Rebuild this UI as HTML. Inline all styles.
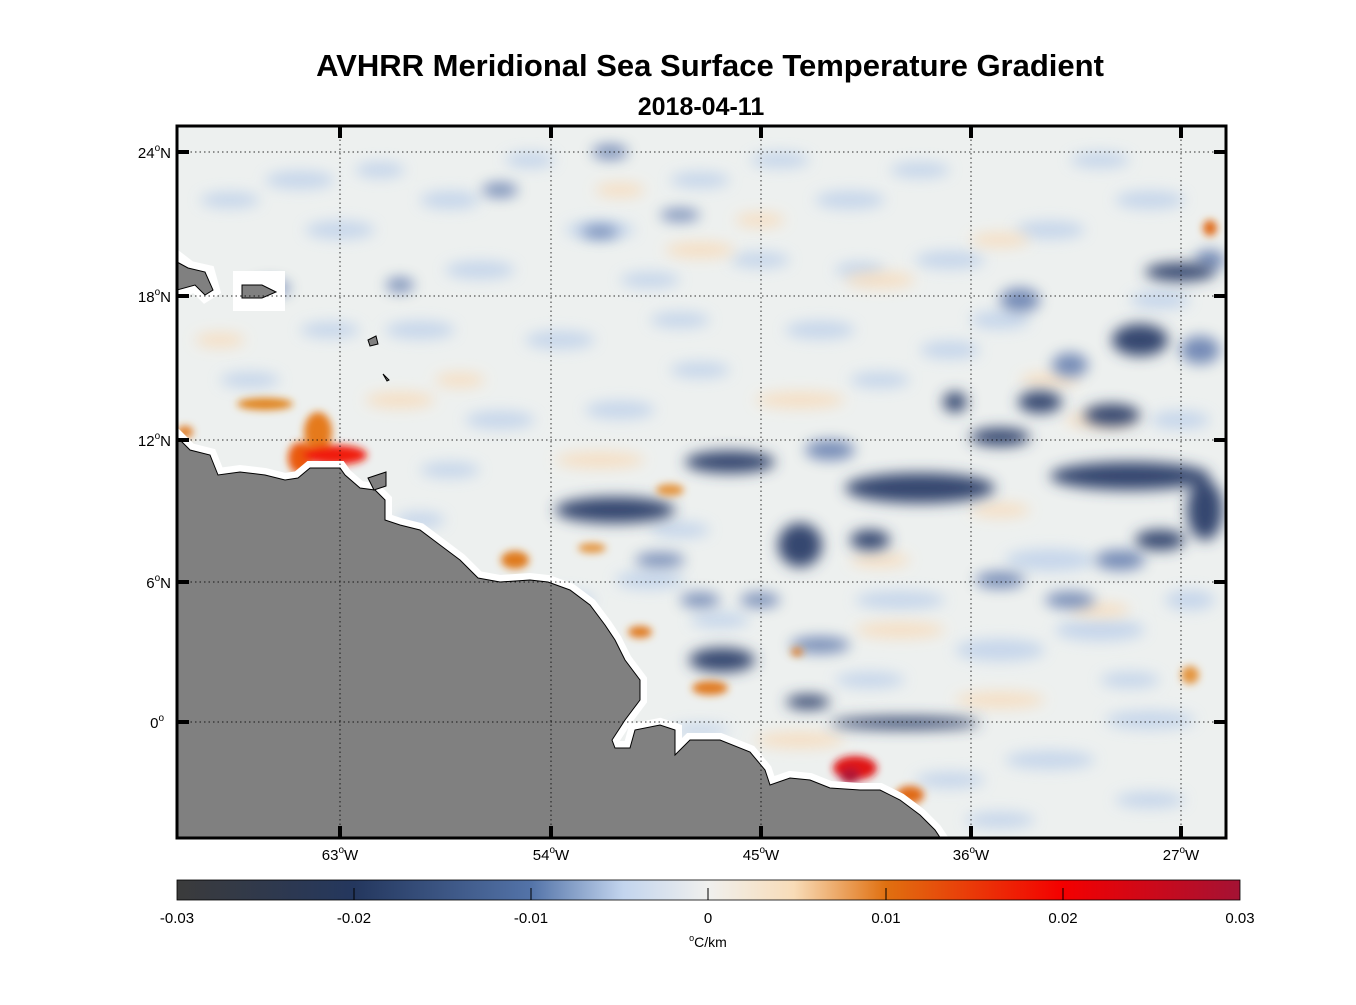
<!DOCTYPE html>
<html><head><style>
body{margin:0;background:#fff;}
svg text{font-family:"Liberation Sans",Arial,sans-serif;}
</style></head><body>
<svg width="1356" height="1000" viewBox="0 0 1356 1000" xmlns="http://www.w3.org/2000/svg">
<defs>
<filter id="b" x="-50%" y="-50%" width="200%" height="200%"><feGaussianBlur stdDeviation="7"/></filter>
<filter id="b2" x="-50%" y="-50%" width="200%" height="200%"><feGaussianBlur stdDeviation="4"/></filter>
<clipPath id="ax"><rect x="177" y="126" width="1049" height="712"/></clipPath>
<linearGradient id="cb" x1="0" x2="1">
<stop offset="0" stop-color="#3b3b3b"/>
<stop offset="0.167" stop-color="#24375e"/>
<stop offset="0.333" stop-color="#5373a8"/>
<stop offset="0.42" stop-color="#c3d5ee"/>
<stop offset="0.5" stop-color="#f0f0ee"/>
<stop offset="0.58" stop-color="#f8dcb8"/>
<stop offset="0.667" stop-color="#e07010"/>
<stop offset="0.833" stop-color="#f40000"/>
<stop offset="1" stop-color="#a41234"/>
</linearGradient>
</defs>
<text x="710" y="76" font-size="31" font-weight="bold" text-anchor="middle">AVHRR Meridional Sea Surface Temperature Gradient</text>
<text x="701" y="115" font-size="25" font-weight="bold" text-anchor="middle">2018-04-11</text>
<g clip-path="url(#ax)">
<rect x="177" y="126" width="1049" height="712" fill="#edf0ef"/>
<g filter="url(#b)" fill="#bfd1ea" opacity="0.85">
<ellipse cx="300" cy="180" rx="35" ry="9"/><ellipse cx="450" cy="200" rx="30" ry="9"/><ellipse cx="600" cy="230" rx="35" ry="9"/>
<ellipse cx="700" cy="180" rx="30" ry="8"/><ellipse cx="850" cy="200" rx="35" ry="9"/><ellipse cx="950" cy="260" rx="35" ry="9"/>
<ellipse cx="420" cy="330" rx="35" ry="9"/><ellipse cx="560" cy="340" rx="35" ry="9"/><ellipse cx="680" cy="320" rx="30" ry="8"/>
<ellipse cx="820" cy="330" rx="35" ry="9"/><ellipse cx="950" cy="350" rx="30" ry="9"/><ellipse cx="250" cy="380" rx="30" ry="8"/>
<ellipse cx="500" cy="420" rx="35" ry="9"/><ellipse cx="620" cy="410" rx="35" ry="9"/><ellipse cx="1050" cy="560" rx="45" ry="11"/>
<ellipse cx="1100" cy="630" rx="45" ry="11"/><ellipse cx="1000" cy="650" rx="45" ry="11"/><ellipse cx="650" cy="580" rx="35" ry="9"/>
<ellipse cx="560" cy="600" rx="35" ry="9"/><ellipse cx="900" cy="600" rx="45" ry="9"/><ellipse cx="1050" cy="760" rx="45" ry="9"/>
<ellipse cx="1150" cy="720" rx="45" ry="9"/><ellipse cx="1050" cy="230" rx="35" ry="9"/><ellipse cx="1150" cy="200" rx="35" ry="9"/>
<ellipse cx="480" cy="270" rx="35" ry="9"/><ellipse cx="340" cy="230" rx="35" ry="9"/>
<ellipse cx="230" cy="200" rx="30" ry="8"/><ellipse cx="380" cy="170" rx="25" ry="8"/><ellipse cx="530" cy="160" rx="25" ry="8"/>
<ellipse cx="780" cy="160" rx="30" ry="8"/><ellipse cx="920" cy="170" rx="30" ry="8"/><ellipse cx="1100" cy="160" rx="30" ry="8"/>
<ellipse cx="760" cy="260" rx="30" ry="8"/><ellipse cx="860" cy="270" rx="25" ry="8"/><ellipse cx="650" cy="280" rx="30" ry="8"/>
<ellipse cx="330" cy="330" rx="30" ry="8"/><ellipse cx="700" cy="370" rx="30" ry="8"/><ellipse cx="880" cy="380" rx="30" ry="8"/>
<ellipse cx="1000" cy="320" rx="30" ry="9"/><ellipse cx="1160" cy="300" rx="30" ry="9"/><ellipse cx="1180" cy="420" rx="30" ry="9"/>
<ellipse cx="450" cy="470" rx="30" ry="8"/><ellipse cx="420" cy="520" rx="25" ry="8"/><ellipse cx="680" cy="530" rx="30" ry="8"/>
<ellipse cx="720" cy="620" rx="30" ry="8"/><ellipse cx="870" cy="680" rx="35" ry="8"/><ellipse cx="950" cy="780" rx="35" ry="8"/>
<ellipse cx="1150" cy="800" rx="35" ry="8"/><ellipse cx="1000" cy="820" rx="35" ry="8"/><ellipse cx="1130" cy="680" rx="30" ry="8"/>
<ellipse cx="700" cy="730" rx="30" ry="6"/><ellipse cx="1190" cy="600" rx="25" ry="10"/>
</g>
<g filter="url(#b)" fill="#f7dcbc" opacity="0.85">
<ellipse cx="400" cy="400" rx="35" ry="8"/><ellipse cx="600" cy="460" rx="45" ry="8"/><ellipse cx="800" cy="400" rx="45" ry="8"/>
<ellipse cx="900" cy="630" rx="45" ry="8"/><ellipse cx="1000" cy="700" rx="45" ry="8"/><ellipse cx="700" cy="250" rx="35" ry="8"/>
<ellipse cx="880" cy="280" rx="35" ry="8"/><ellipse cx="1100" cy="420" rx="35" ry="8"/><ellipse cx="800" cy="740" rx="45" ry="8"/>
<ellipse cx="620" cy="190" rx="25" ry="7"/><ellipse cx="760" cy="220" rx="25" ry="7"/><ellipse cx="1000" cy="240" rx="30" ry="7"/>
<ellipse cx="1050" cy="380" rx="30" ry="7"/><ellipse cx="1000" cy="510" rx="30" ry="7"/><ellipse cx="1100" cy="610" rx="30" ry="7"/>
<ellipse cx="880" cy="560" rx="30" ry="7"/><ellipse cx="220" cy="340" rx="25" ry="7"/><ellipse cx="460" cy="380" rx="25" ry="7"/>
</g>
<g filter="url(#b)" fill="#6780b0" opacity="0.9">
<ellipse cx="610" cy="152" rx="18" ry="7"/><ellipse cx="500" cy="190" rx="18" ry="7"/><ellipse cx="680" cy="215" rx="20" ry="6"/>
<ellipse cx="600" cy="232" rx="18" ry="6"/><ellipse cx="270" cy="288" rx="20" ry="8"/><ellipse cx="400" cy="285" rx="14" ry="7"/>
<ellipse cx="1020" cy="300" rx="20" ry="12"/><ellipse cx="1200" cy="350" rx="20" ry="14"/><ellipse cx="1070" cy="365" rx="18" ry="12"/>
<ellipse cx="820" cy="645" rx="30" ry="8"/><ellipse cx="1000" cy="580" rx="25" ry="8"/><ellipse cx="1120" cy="560" rx="25" ry="10"/>
<ellipse cx="1070" cy="600" rx="25" ry="8"/><ellipse cx="830" cy="450" rx="25" ry="10"/><ellipse cx="1210" cy="260" rx="15" ry="10"/>
<ellipse cx="660" cy="560" rx="25" ry="7"/><ellipse cx="700" cy="600" rx="20" ry="7"/><ellipse cx="760" cy="600" rx="20" ry="7"/>
</g>
<g filter="url(#b)" fill="#35476f">
<ellipse cx="730" cy="462" rx="45" ry="11"/><ellipse cx="920" cy="488" rx="75" ry="15"/><ellipse cx="1130" cy="476" rx="80" ry="14"/>
<ellipse cx="615" cy="510" rx="60" ry="13"/><ellipse cx="1000" cy="437" rx="30" ry="9"/><ellipse cx="1040" cy="402" rx="22" ry="11"/>
<ellipse cx="1140" cy="340" rx="28" ry="16"/><ellipse cx="1112" cy="415" rx="28" ry="11"/><ellipse cx="1205" cy="510" rx="18" ry="30"/>
<ellipse cx="800" cy="545" rx="22" ry="22"/><ellipse cx="722" cy="660" rx="33" ry="12"/><ellipse cx="808" cy="702" rx="22" ry="7"/>
<ellipse cx="905" cy="723" rx="75" ry="6"/><ellipse cx="1180" cy="272" rx="35" ry="9"/><ellipse cx="955" cy="402" rx="12" ry="10"/>
<ellipse cx="870" cy="540" rx="20" ry="10"/><ellipse cx="1160" cy="540" rx="25" ry="10"/>
</g>
<g filter="url(#b2)">
<ellipse cx="265" cy="404" rx="28" ry="6" fill="#e0831f"/>
<ellipse cx="318" cy="432" rx="14" ry="20" fill="#e57a1a"/>
<ellipse cx="300" cy="458" rx="12" ry="16" fill="#ea5a10"/>
<ellipse cx="335" cy="455" rx="32" ry="10" fill="#f01a0a"/>
<ellipse cx="185" cy="432" rx="8" ry="6" fill="#e07a20"/>
<ellipse cx="515" cy="560" rx="14" ry="9" fill="#df7a1e"/>
<ellipse cx="592" cy="548" rx="14" ry="5" fill="#e49540"/>
<ellipse cx="640" cy="632" rx="12" ry="6" fill="#e07a20"/>
<ellipse cx="710" cy="688" rx="18" ry="7" fill="#e07a20"/>
<ellipse cx="670" cy="490" rx="14" ry="6" fill="#e49540"/>
<ellipse cx="855" cy="768" rx="22" ry="12" fill="#e01818"/>
<ellipse cx="850" cy="776" rx="10" ry="8" fill="#b01535"/>
<ellipse cx="910" cy="795" rx="14" ry="9" fill="#e06a18"/>
<ellipse cx="1190" cy="675" rx="9" ry="9" fill="#e49540"/>
<ellipse cx="1210" cy="228" rx="7" ry="8" fill="#e06a18"/>
<ellipse cx="797" cy="652" rx="6" ry="4" fill="#e07a20"/>
</g>
<g fill="#fff" stroke="#fff" stroke-width="14" stroke-linejoin="miter">
<path d="M177,437 L190,450 L210,455 L218,475 L240,472 L265,475 L285,480 L298,478 L310,468 L340,468 L345,475 L360,488 L375,490 L385,500 L385,520 L400,525 L420,530 L440,545 L460,560 L478,578 L500,582 L530,580 L548,582 L570,590 L590,605 L605,625 L615,640 L625,660 L640,680 L640,700 L625,720 L612,740 L615,748 L630,748 L635,730 L660,725 L675,730 L675,755 L690,740 L720,740 L750,752 L765,770 L770,785 L790,778 L810,780 L830,788 L860,790 L880,790 L900,800 L920,815 L935,830 L945,845 L177,845 Z"/>
<path d="M177,258 L190,268 L208,272 L213,290 L205,295 L195,285 L177,292 Z"/>
<rect x="240" y="278" width="38" height="26"/>
</g>
<g fill="#808080" stroke="#000" stroke-width="1">
<path d="M177,437 L190,450 L210,455 L218,475 L240,472 L265,475 L285,480 L298,478 L310,468 L340,468 L345,475 L360,488 L375,490 L385,500 L385,520 L400,525 L420,530 L440,545 L460,560 L478,578 L500,582 L530,580 L548,582 L570,590 L590,605 L605,625 L615,640 L625,660 L640,680 L640,700 L625,720 L612,740 L615,748 L630,748 L635,730 L660,725 L675,730 L675,755 L690,740 L720,740 L750,752 L765,770 L770,785 L790,778 L810,780 L830,788 L860,790 L880,790 L900,800 L920,815 L935,830 L945,845 L177,845 Z"/>
<path d="M177,262 L188,268 L205,272 L213,290 L205,295 L195,285 L177,290 Z"/>
<path d="M242,285 L262,285 L276,292 L262,298 L242,298 Z"/>
<path d="M368,478 L386,472 L386,486 L374,490 Z"/>
<path d="M368,340 L376,336 L378,344 L370,346 Z"/>
<path d="M383,374 L389,380 L387,381 Z"/>
</g>
</g>
<g stroke="#000" stroke-width="1" stroke-dasharray="1.5,3" opacity="0.8">
<line x1="340" y1="126" x2="340" y2="838"/><line x1="551" y1="126" x2="551" y2="838"/><line x1="761" y1="126" x2="761" y2="838"/>
<line x1="971" y1="126" x2="971" y2="838"/><line x1="1181" y1="126" x2="1181" y2="838"/>
<line x1="177" y1="152" x2="1226" y2="152"/><line x1="177" y1="296" x2="1226" y2="296"/><line x1="177" y1="440" x2="1226" y2="440"/>
<line x1="177" y1="582" x2="1226" y2="582"/><line x1="177" y1="722" x2="1226" y2="722"/>
</g>
<g stroke="#000" stroke-width="4">
<line x1="177" y1="152" x2="189" y2="152"/><line x1="177" y1="296" x2="189" y2="296"/><line x1="177" y1="440" x2="189" y2="440"/><line x1="177" y1="582" x2="189" y2="582"/><line x1="177" y1="722" x2="189" y2="722"/>
<line x1="1214" y1="152" x2="1226" y2="152"/><line x1="1214" y1="296" x2="1226" y2="296"/><line x1="1214" y1="440" x2="1226" y2="440"/><line x1="1214" y1="582" x2="1226" y2="582"/><line x1="1214" y1="722" x2="1226" y2="722"/>
<line x1="340" y1="126" x2="340" y2="138"/><line x1="551" y1="126" x2="551" y2="138"/><line x1="761" y1="126" x2="761" y2="138"/><line x1="971" y1="126" x2="971" y2="138"/><line x1="1181" y1="126" x2="1181" y2="138"/>
<line x1="340" y1="826" x2="340" y2="838"/><line x1="551" y1="826" x2="551" y2="838"/><line x1="761" y1="826" x2="761" y2="838"/><line x1="971" y1="826" x2="971" y2="838"/><line x1="1181" y1="826" x2="1181" y2="838"/>
</g>
<rect x="177" y="126" width="1049" height="712" fill="none" stroke="#000" stroke-width="3"/>
<g font-size="15" text-anchor="end">
<text x="171" y="158">24<tspan font-size="10" dy="-7">o</tspan><tspan dy="7">N</tspan></text>
<text x="171" y="302">18<tspan font-size="10" dy="-7">o</tspan><tspan dy="7">N</tspan></text>
<text x="171" y="446">12<tspan font-size="10" dy="-7">o</tspan><tspan dy="7">N</tspan></text>
<text x="171" y="588">6<tspan font-size="10" dy="-7">o</tspan><tspan dy="7">N</tspan></text>
<text x="164" y="728">0<tspan font-size="10" dy="-7">o</tspan></text>
</g>
<g font-size="15" text-anchor="middle">
<text x="340" y="860">63<tspan font-size="10" dy="-7">o</tspan><tspan dy="7">W</tspan></text>
<text x="551" y="860">54<tspan font-size="10" dy="-7">o</tspan><tspan dy="7">W</tspan></text>
<text x="761" y="860">45<tspan font-size="10" dy="-7">o</tspan><tspan dy="7">W</tspan></text>
<text x="971" y="860">36<tspan font-size="10" dy="-7">o</tspan><tspan dy="7">W</tspan></text>
<text x="1181" y="860">27<tspan font-size="10" dy="-7">o</tspan><tspan dy="7">W</tspan></text>
</g>
<rect x="177" y="880" width="1063" height="20" fill="url(#cb)" stroke="#000" stroke-width="0.8"/>
<g stroke="#000" stroke-width="1">
<line x1="354" y1="888" x2="354" y2="900"/><line x1="531" y1="888" x2="531" y2="900"/><line x1="708" y1="888" x2="708" y2="900"/><line x1="886" y1="888" x2="886" y2="900"/><line x1="1063" y1="888" x2="1063" y2="900"/>
</g>
<g font-size="15" text-anchor="middle">
<text x="177" y="923">-0.03</text><text x="354" y="923">-0.02</text><text x="531" y="923">-0.01</text><text x="708" y="923">0</text>
<text x="886" y="923">0.01</text><text x="1063" y="923">0.02</text><text x="1240" y="923">0.03</text>
<text x="708" y="947" font-size="14"><tspan font-size="9" dy="-6">o</tspan><tspan dy="6">C/km</tspan></text>
</g>
</svg>
</body></html>
